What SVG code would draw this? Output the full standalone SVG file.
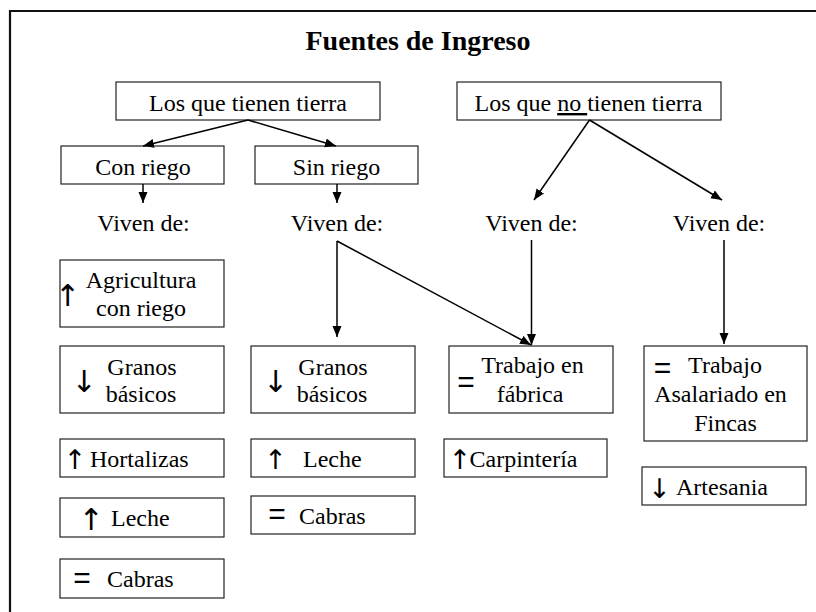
<svg xmlns="http://www.w3.org/2000/svg" width="816" height="612" viewBox="0 0 816 612">
<defs>
<marker id="ah" markerUnits="userSpaceOnUse" markerWidth="12" markerHeight="10" refX="11" refY="4.5" orient="auto">
<path d="M0,0 L11,4.5 L0,9 z" fill="#000"/>
</marker>
</defs>
<style>
.box{fill:#fff;stroke:#222;stroke-width:1.2}
.t{font-size:24px;fill:#000}
.m{text-anchor:middle}
.sym{font-size:30px;fill:#000;text-anchor:middle}
.eq{font-size:30px;fill:#000;text-anchor:middle}
.c{stroke:#000;stroke-width:1.5;fill:none;marker-end:url(#ah)}
</style>
<rect width="816" height="612" fill="#fff"/>
<g id="frame">
<path d="M10,612 L10,11 L816,11" fill="none" stroke="#111" stroke-width="2.2"/>
</g>
<g font-family="'Liberation Serif', Tinos, 'Times New Roman', 'Nimbus Roman', 'Nimbus Roman No9 L', 'Noto Serif', FreeSerif, 'DejaVu Serif', Times, serif">
<g id="title"><text x="418" y="50" class="t m" font-weight="bold" style="font-size:28px">Fuentes de Ingreso</text></g>

<g id="n_tierra"><rect class="box" x="116" y="82" width="264" height="38"/><text x="248" y="111" class="t m">Los que tienen tierra</text></g>
<g id="n_notierra"><rect class="box" x="457" y="82" width="264" height="38"/><text x="588.5" y="111" class="t m">Los que <tspan text-decoration="underline">no </tspan>tienen tierra</text></g>
<g id="n_conriego"><rect class="box" x="61" y="146" width="163" height="38"/><text x="143" y="175" class="t m">Con riego</text></g>
<g id="n_sinriego"><rect class="box" x="255" y="146" width="163" height="38"/><text x="336.5" y="175" class="t m">Sin riego</text></g>

<g id="v1"><text x="143.5" y="231" class="t m">Viven de:</text></g>
<g id="v2"><text x="337" y="231" class="t m">Viven de:</text></g>
<g id="v3"><text x="531.5" y="231" class="t m">Viven de:</text></g>
<g id="v4"><text x="719" y="231" class="t m">Viven de:</text></g>

<g id="n_agri"><rect class="box" x="60" y="260" width="164" height="67"/>
<text x="67.5" y="306" class="sym" font-family="'DejaVu Sans', sans-serif">↑</text>
<text x="141" y="288" class="t m">Agricultura</text><text x="141" y="316" class="t m">con riego</text></g>

<g id="n_granos1"><rect class="box" x="60" y="346" width="164" height="67"/>
<text x="84" y="392" class="sym" font-family="'DejaVu Sans', sans-serif">↓</text>
<text x="142" y="375" class="t m">Granos</text><text x="141" y="402" class="t m">básicos</text></g>

<g id="n_granos2"><rect class="box" x="251" y="346" width="164" height="67"/>
<text x="275.5" y="392" class="sym" font-family="'DejaVu Sans', sans-serif">↓</text>
<text x="333" y="375" class="t m">Granos</text><text x="332" y="402" class="t m">básicos</text></g>

<g id="n_fabrica"><rect class="box" x="449" y="346" width="164" height="67"/>
<text x="466" y="392" class="eq" font-family="'Liberation Sans', Arial, sans-serif">=</text>
<text x="532.5" y="373" class="t m">Trabajo en</text><text x="530" y="402" class="t m">fábrica</text></g>

<g id="n_fincas"><rect class="box" x="644" y="346" width="163" height="95"/>
<text x="662.5" y="378" class="eq" font-family="'Liberation Sans', Arial, sans-serif">=</text>
<text x="725" y="373" class="t m">Trabajo</text>
<text x="720.5" y="402" class="t m">Asalariado en</text>
<text x="725.5" y="431" class="t m">Fincas</text></g>

<g id="n_hortalizas"><rect class="box" x="60" y="439" width="164" height="38"/>
<text x="75" y="469" class="sym" font-family="'DejaVu Sans', sans-serif" style="font-size:27px">↑</text>
<text x="90" y="467" class="t">Hortalizas</text></g>

<g id="n_leche2"><rect class="box" x="251" y="439" width="164" height="38"/>
<text x="275.5" y="469" class="sym" font-family="'DejaVu Sans', sans-serif" style="font-size:27px">↑</text>
<text x="303" y="467" class="t">Leche</text></g>

<g id="n_carp"><rect class="box" x="444" y="439" width="163" height="38"/>
<text x="460" y="469" class="sym" font-family="'DejaVu Sans', sans-serif" style="font-size:27px">↑</text>
<text x="469.5" y="467" class="t">Carpintería</text></g>

<g id="n_artesania"><rect class="box" x="642" y="467" width="164" height="38"/>
<text x="659.5" y="498" class="sym" font-family="'DejaVu Sans', sans-serif" style="font-size:27px">↓</text>
<text x="676" y="495" class="t">Artesania</text></g>

<g id="n_cabras2"><rect class="box" x="251" y="496" width="164" height="38"/>
<text x="277" y="524" class="eq" font-family="'Liberation Sans', Arial, sans-serif">=</text>
<text x="299" y="524" class="t">Cabras</text></g>

<g id="n_leche1"><rect class="box" x="60" y="498" width="164" height="39"/>
<text x="91" y="530" class="sym" font-family="'DejaVu Sans', sans-serif">↑</text>
<text x="111" y="526" class="t">Leche</text></g>

<g id="n_cabras1"><rect class="box" x="60" y="559" width="164" height="39"/>
<text x="82" y="588" class="eq" font-family="'Liberation Sans', Arial, sans-serif">=</text>
<text x="107" y="587" class="t">Cabras</text></g>
</g>

<g id="connectors">
<line class="c" x1="248" y1="120" x2="143" y2="146"/>
<line class="c" x1="248" y1="120" x2="336" y2="146"/>
<line class="c" x1="143" y1="184" x2="143" y2="203"/>
<line class="c" x1="337" y1="184" x2="337" y2="203"/>
<line class="c" x1="589.5" y1="120" x2="534" y2="200"/>
<line class="c" x1="589.5" y1="120" x2="722" y2="200"/>
<line class="c" x1="337" y1="241" x2="337" y2="337"/>
<line class="c" x1="337" y1="241" x2="531" y2="345"/>
<line class="c" x1="531.5" y1="240" x2="531.5" y2="345"/>
<line class="c" x1="724" y1="240" x2="724" y2="344"/>
</g>
</svg>
